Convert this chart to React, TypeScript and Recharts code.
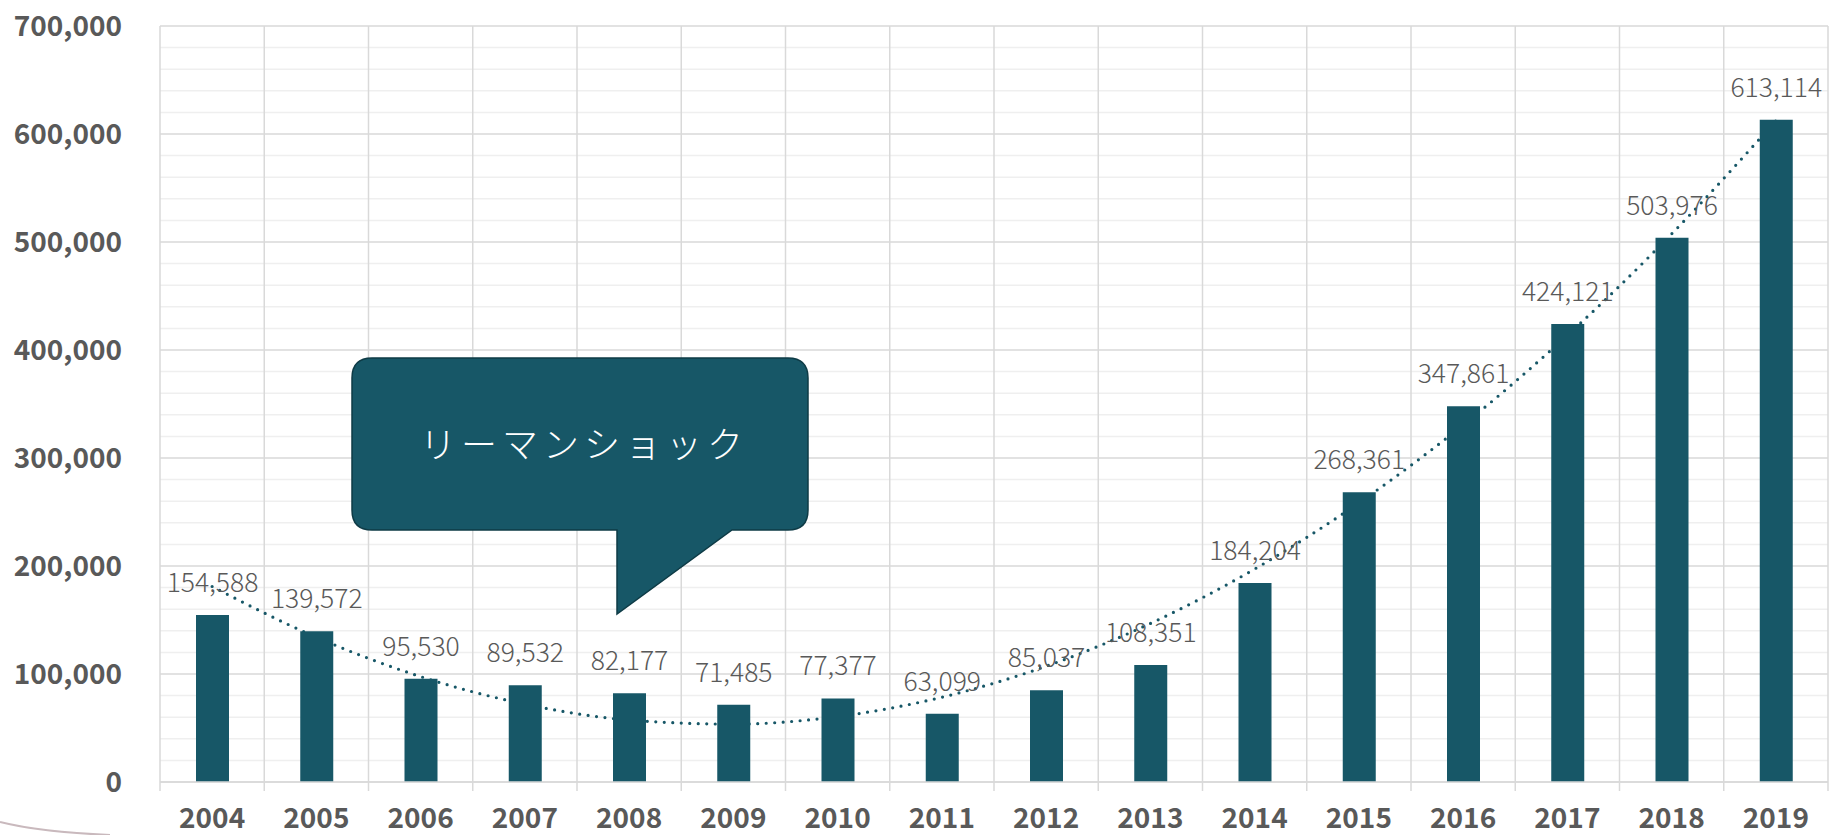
import React from "react";
import {
  ComposedChart,
  Bar,
  Line,
  XAxis,
  YAxis,
  CartesianGrid,
  ReferenceLine,
  LabelList,
} from "recharts";

const years = ["2004","2005","2006","2007","2008","2009","2010","2011","2012","2013","2014","2015","2016","2017","2018","2019"];
const counts = [154588,139572,95530,89532,82177,71485,77377,63099,85037,108351,184204,268361,347861,424121,503976,613114];
const trendValues = [181000,134000,97600,72100,57400,53600,60600,78500,107200,146800,197200,258500,330600,413600,507500,612200];
const majorTicks = [0,100000,200000,300000,400000,500000,600000,700000];
const minorTicks = [20000,40000,60000,80000,120000,140000,160000,180000,220000,240000,260000,280000,320000,340000,360000,380000,420000,440000,460000,480000,520000,540000,560000,580000,620000,640000,660000,680000];
const calloutText = "リーマンショック";

const data = years.map((y, i) => ({ year: y, count: counts[i], trend: trendValues[i] }));

const TEAL = "#175767";
const GRAY_TEXT = "#595959";
const FONT = "'Noto Sans CJK JP', 'Noto Sans', sans-serif";

const fmt = (v: number) => v.toLocaleString("en-US");

const XTick = (props: any) => {
  const { x, y, payload, index } = props;
  const off = payload && typeof payload.offset === "number" && payload.offset > 0 ? payload.offset : 52.125;
  return (
    <g>
      <line x1={x - off} x2={x - off} y1={y} y2={y + 9} stroke="#d9d9d9" strokeWidth={1.5} />
      {index === years.length - 1 && (
        <line x1={x + off} x2={x + off} y1={y} y2={y + 9} stroke="#d9d9d9" strokeWidth={1.5} />
      )}
      <text x={x} y={y + 46} textAnchor="middle" fill={GRAY_TEXT} fontSize={28} fontWeight={700} fontFamily={FONT}>
        {payload.value}
      </text>
    </g>
  );
};

export default function App() {
  return (
    <div style={{ position: "absolute", left: 0, top: 0, width: 1841, height: 835, background: "#fff" }}>
      <ComposedChart
        width={1841}
        height={835}
        data={data}
        margin={{ top: 26, right: 13, bottom: 0, left: 20 }}
        barCategoryGap={0}
      >
        <CartesianGrid horizontalValues={minorTicks} vertical={false} stroke="#efefef" strokeWidth={1.5} />
        <CartesianGrid horizontalValues={majorTicks} vertical={false} stroke="#d9d9d9" strokeWidth={1.5} />
        {years.map((y) => (
          <ReferenceLine key={"v" + y} x={y} position="start" stroke="#d9d9d9" strokeWidth={1.5} zIndex={-90} />
        ))}
        <ReferenceLine x={years[years.length - 1]} position="end" stroke="#d9d9d9" strokeWidth={1.5} zIndex={-90} />
        <XAxis
          dataKey="year"
          axisLine={{ stroke: "#d9d9d9", strokeWidth: 1.5 }}
          tickLine={false}
          tickSize={0}
          tickMargin={0}
          height={53}
          interval={0}
          tick={<XTick />}
        />
        <YAxis
          domain={[0, 700000]}
          ticks={majorTicks}
          tickFormatter={fmt}
          axisLine={false}
          tickLine={false}
          tickSize={0}
          tickMargin={38}
          width={140}
          interval={0}
          tick={{ fill: GRAY_TEXT, fontSize: 28, fontWeight: 700, fontFamily: FONT }}
        />
        <Line
          dataKey="trend"
          type="monotone"
          stroke={TEAL}
          strokeWidth={3.2}
          strokeDasharray="0 8.5"
          strokeLinecap="round"
          dot={false}
          activeDot={false}
          isAnimationActive={false}
          zIndex={250}
        />
        <Bar dataKey="count" fill={TEAL} barSize={33} isAnimationActive={false}>
          <LabelList
            dataKey="count"
            position="top"
            offset={23}
            formatter={(v: any) => fmt(Number(v))}
            fill={GRAY_TEXT}
            fontSize={26.5}
            fontWeight={300}
            fontFamily={FONT}
          />
        </Bar>
      </ComposedChart>
      <svg
        width={1841}
        height={835}
        style={{ position: "absolute", left: 0, top: 0, pointerEvents: "none" }}
      >
        <path d="M 0 822 Q 40 832 110 835" fill="none" stroke="#c9b9bd" strokeWidth={2} />
        <path
          d="M 372 358 H 788 Q 808 358 808 378 V 510 Q 808 530 788 530 H 732 L 617 614 V 530 H 372 Q 352 530 352 510 V 378 Q 352 358 372 358 Z"
          fill={TEAL}
          stroke="#0e3b46"
          strokeWidth={1.5}
        />
        <text
          x={584}
          y={442}
          textAnchor="middle"
          dominantBaseline="central"
          fill="#ffffff"
          fontSize={36}
          fontWeight={300}
          letterSpacing={5}
          fontFamily={FONT}
        >
          {calloutText}
        </text>
      </svg>
    </div>
  );
}
